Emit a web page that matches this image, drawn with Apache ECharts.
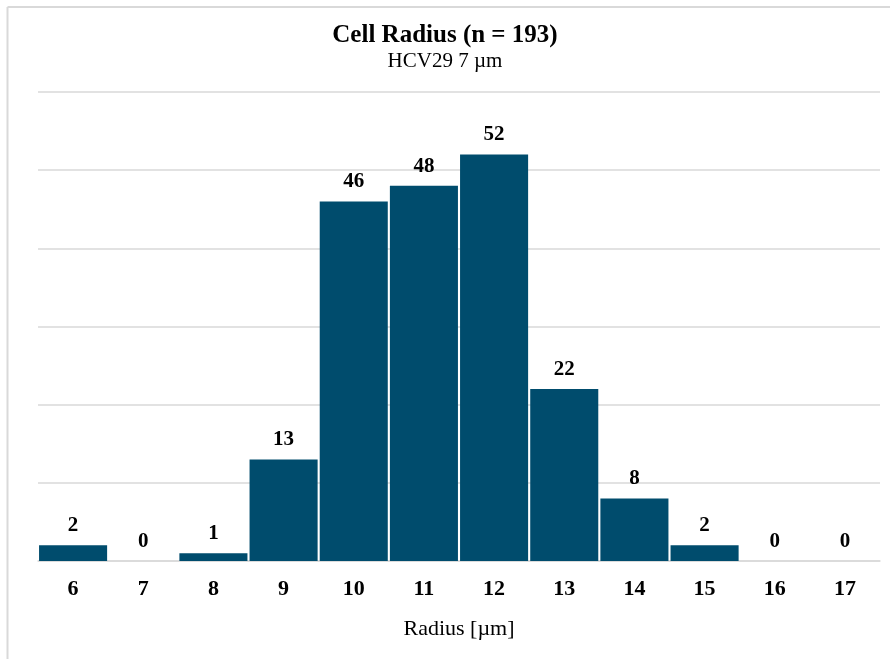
<!DOCTYPE html>
<html>
<head>
<meta charset="utf-8">
<style>
  html, body { margin: 0; padding: 0; background: #ffffff; }
  #chart { width: 890px; height: 659px; }
</style>
<script src="https://cdn.jsdelivr.net/npm/echarts@6/dist/echarts.min.js"></script>
</head>
<body>
<div id="chart"></div>
<script>
// Histogram bins (radius in µm) and cell counts per bin
const radiusBins = ['6', '7', '8', '9', '10', '11', '12', '13', '14', '15', '16', '17'];
const cellCounts = [2, 0, 1, 13, 46, 48, 52, 22, 8, 2, 0, 0];

const titleText = 'Cell Radius (n = 193)';
const subtitleText = 'HCV29 7 µm';
const xAxisName = 'Radius [µm]';

const serif = '"Liberation Serif", "Times New Roman", serif';

const chart = echarts.init(document.getElementById('chart'), null, { renderer: 'canvas' });

chart.setOption({
  animation: false,
  backgroundColor: '#ffffff',
  textStyle: { fontFamily: serif },
  title: {
    text: titleText,
    subtext: subtitleText,
    left: 'center',
    top: 18,
    itemGap: 3,
    textStyle: { fontFamily: serif, fontSize: 25, fontWeight: 'bold', color: '#000000' },
    subtextStyle: { fontFamily: serif, fontSize: 21, color: '#000000' }
  },
  graphic: [
    { type: 'line', shape: { x1: 7.5, y1: 7, x2: 890, y2: 7 }, style: { stroke: '#d9d9d9', lineWidth: 2 } },
    { type: 'line', shape: { x1: 7.5, y1: 7, x2: 7.5, y2: 659 }, style: { stroke: '#d9d9d9', lineWidth: 2 } }
  ],
  grid: { left: 38, right: 10, top: 92, bottom: 98, containLabel: false },
  xAxis: {
    type: 'category',
    data: radiusBins,
    name: xAxisName,
    nameLocation: 'middle',
    nameGap: 57,
    nameTextStyle: { fontFamily: serif, fontSize: 22, color: '#000000' },
    axisLine: { show: true, lineStyle: { color: '#d9d9d9', width: 1.5 } },
    axisTick: { show: false },
    axisLabel: { fontFamily: serif, fontSize: 22, fontWeight: 'bold', color: '#000000', margin: 17 }
  },
  yAxis: {
    type: 'value',
    min: 0,
    max: 60,
    interval: 10,
    axisLine: { show: false },
    axisTick: { show: false },
    axisLabel: { show: false },
    splitLine: { lineStyle: { color: '#d9d9d9', width: 1.5 } }
  },
  series: [{
    type: 'bar',
    data: cellCounts,
    barCategoryGap: '3%',
    itemStyle: { color: '#004c6d' },
    label: {
      show: true,
      position: 'top',
      distance: 9,
      fontFamily: serif,
      fontSize: 21,
      fontWeight: 'bold',
      color: '#000000'
    }
  }]
});
</script>
</body>
</html>
